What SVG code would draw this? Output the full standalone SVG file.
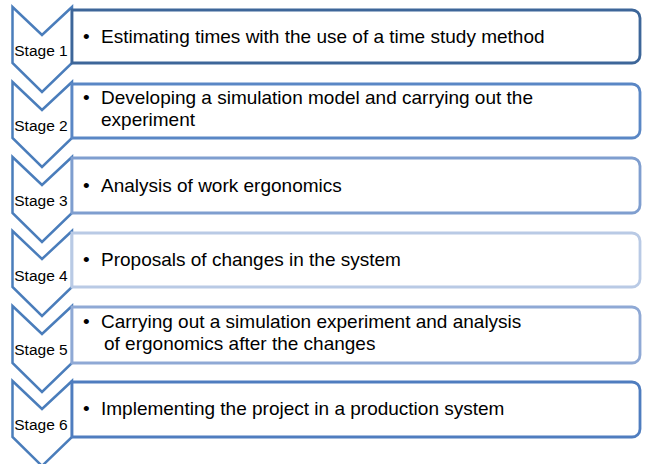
<svg xmlns="http://www.w3.org/2000/svg" width="649" height="464" viewBox="0 0 649 464">
<style>
.chev{fill:#fff;stroke:#4A7DBB;stroke-width:2.5;stroke-linejoin:miter}
.box{fill:#fff;stroke-width:2.8}
.stage{font-family:"Liberation Sans",Arial,sans-serif;font-size:15.5px;fill:#000;text-anchor:middle}
.txt{font-family:"Liberation Sans",Arial,sans-serif;font-size:19px;fill:#000}
</style>
<rect width="649" height="464" fill="#fff"/>
<g id="stage1">
<polygon class="chev" points="12.5,7 42,35 72,7 72,63 42,92 12.5,63"/>
<path class="box" stroke="#3D6699" d="M72,10 H632 A8,8 0 0 1 640,18 V55 A8,8 0 0 1 632,63 H72 Z"/>
<text class="stage" x="41" y="56">Stage 1</text>
<text class="txt" y="43"><tspan x="83">•</tspan><tspan x="101">Estimating times with the use of a time study method</tspan></text>
</g>
<g id="stage2">
<polygon class="chev" points="12.5,82 42,110 72,82 72,138 42,167 12.5,138"/>
<path class="box" stroke="#5A87C5" d="M72,84 H632 A8,8 0 0 1 640,92 V130 A8,8 0 0 1 632,138 H72 Z"/>
<text class="stage" x="41" y="131">Stage 2</text>
<text class="txt" y="104"><tspan x="83">•</tspan><tspan x="101">Developing a simulation model and carrying out the</tspan></text>
<text class="txt" x="101" y="126">experiment</text>
</g>
<g id="stage3">
<polygon class="chev" points="12.5,157 42,185 72,157 72,213 42,242 12.5,213"/>
<path class="box" stroke="#7F9ECF" d="M72,158 H632 A8,8 0 0 1 640,166 V205 A8,8 0 0 1 632,213 H72 Z"/>
<text class="stage" x="41" y="206">Stage 3</text>
<text class="txt" y="192"><tspan x="83">•</tspan><tspan x="101">Analysis of work ergonomics</tspan></text>
</g>
<g id="stage4">
<polygon class="chev" points="12.5,231 42,259 72,231 72,287 42,316 12.5,287"/>
<path class="box" stroke="#B9CAE5" d="M72,233 H632 A8,8 0 0 1 640,241 V279 A8,8 0 0 1 632,287 H72 Z"/>
<text class="stage" x="41" y="281">Stage 4</text>
<text class="txt" y="266"><tspan x="83">•</tspan><tspan x="101">Proposals of changes in the system</tspan></text>
</g>
<g id="stage5">
<polygon class="chev" points="12.5,306 42,334 72,306 72,363 42,392 12.5,363"/>
<path class="box" stroke="#8FA9D5" d="M72,307 H632 A8,8 0 0 1 640,315 V355 A8,8 0 0 1 632,363 H72 Z"/>
<text class="stage" x="41" y="355">Stage 5</text>
<text class="txt" y="328"><tspan x="83">•</tspan><tspan x="101">Carrying out a simulation experiment  and analysis</tspan></text>
<text class="txt" x="104" y="350">of ergonomics after the changes</text>
</g>
<g id="stage6">
<polygon class="chev" points="12.5,381 42,409 72,381 72,437 42,466 12.5,437"/>
<path class="box" stroke="#4F7DBF" d="M72,382 H632 A8,8 0 0 1 640,390 V429 A8,8 0 0 1 632,437 H72 Z"/>
<text class="stage" x="41" y="430">Stage 6</text>
<text class="txt" y="415"><tspan x="83">•</tspan><tspan x="101">Implementing the project in a production system</tspan></text>
</g>
<g id="connectors"></g>
</svg>
